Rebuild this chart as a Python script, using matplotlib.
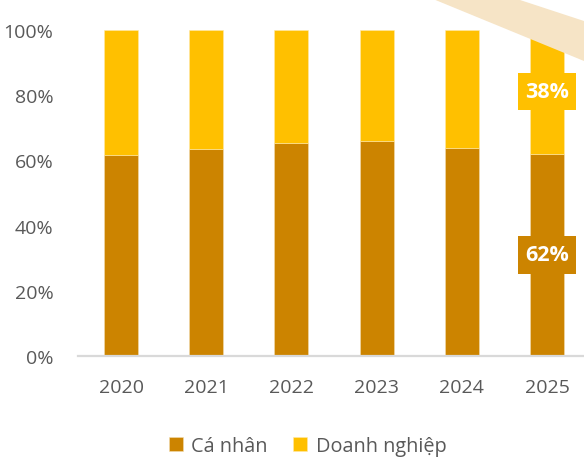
import matplotlib
matplotlib.use("Agg")
import matplotlib.pyplot as plt
from matplotlib.patches import Polygon, Rectangle

years = ["2020", "2021", "2022", "2023", "2024", "2025"]
ca_nhan = [61.7, 63.6, 65.4, 65.9, 63.9, 62.0]
doanh_nghiep = [100 - v for v in ca_nhan]
series_names = ["Cá nhân", "Doanh nghiệp"]
labels_2025 = ["62%", "38%"]
yticks = [0, 20, 40, 60, 80, 100]

c_dark = "#CC8400"
c_light = "#FFC000"
c_text = "#595959"

plt.rcParams["font.family"] = ["Open Sans", "DejaVu Sans"]

W, H = 584, 460
fig = plt.figure(figsize=(W / 100, H / 100), dpi=100)

# faint watermark stripe (top right)
wm = Polygon([(433 / W, 1), (517 / W, 1), (1, 1 - 22 / H), (1, 1 - 62 / H)],
             closed=True, transform=fig.transFigure, facecolor="#F6E4C6",
             edgecolor="none", zorder=0)
fig.patches.append(wm)

left = 78.3 / W
right = 589.6 / W
bottom = 1 - 357.2 / H
top = 1 - 30.7 / H
ax = fig.add_axes([left, bottom, right - left, top - bottom])
ax.patch.set_alpha(0)

x = list(range(len(years)))
b1 = ax.bar(x, ca_nhan, width=0.40, color=c_dark, edgecolor="#F3DDB0", linewidth=0.4,
            label=series_names[0], zorder=2)
b2 = ax.bar(x, doanh_nghiep, width=0.40, bottom=ca_nhan, color=c_light,
            edgecolor="#FFE9A8", linewidth=0.4, label=series_names[1], zorder=2)

ax.set_xlim(-0.502, len(years) - 0.5)
ax.set_ylim(0, 100)
ax.set_xticks(x)
ax.set_xticklabels(years)
ax.set_yticks(yticks)
ax.set_yticklabels([f"{v}%" for v in yticks])
ax.tick_params(axis="both", length=0, labelsize=14, labelcolor=c_text)
ax.tick_params(axis="y", pad=18)
ax.tick_params(axis="x", pad=16)
for s in ["top", "right", "left"]:
    ax.spines[s].set_visible(False)
ax.spines["bottom"].set_color("#D9D9D9")
ax.spines["bottom"].set_linewidth(1.6)
ax.spines["bottom"].set_zorder(3)

# value labels on the last bar
i = len(years) - 1
bw = 58 / 85.3          # box width in category units
bh = 37.5 / 3.263       # box height in percent units
for yv, txt, col in [(ca_nhan[i] / 2, labels_2025[0], c_dark),
                     (ca_nhan[i] + doanh_nghiep[i] / 2, labels_2025[1], c_light)]:
    ax.add_patch(Rectangle((i - bw / 2, yv - bh / 2), bw, bh, facecolor=col,
                           edgecolor="none", zorder=3, clip_on=False))
    ax.text(i, yv, txt, ha="center", va="center", color="white", fontsize=15.5,
            fontweight="bold", zorder=4)

leg = fig.legend(handles=[b1, b2], labels=series_names, loc="center",
                 bbox_to_anchor=(307.5 / W, 1 - 447 / H), ncol=2, frameon=False,
                 fontsize=14.3, handlelength=0.7, handleheight=0.7,
                 handletextpad=0.45, columnspacing=1.25)
for t in leg.get_texts():
    t.set_color(c_text)

fig.savefig("out.png", dpi=100)
